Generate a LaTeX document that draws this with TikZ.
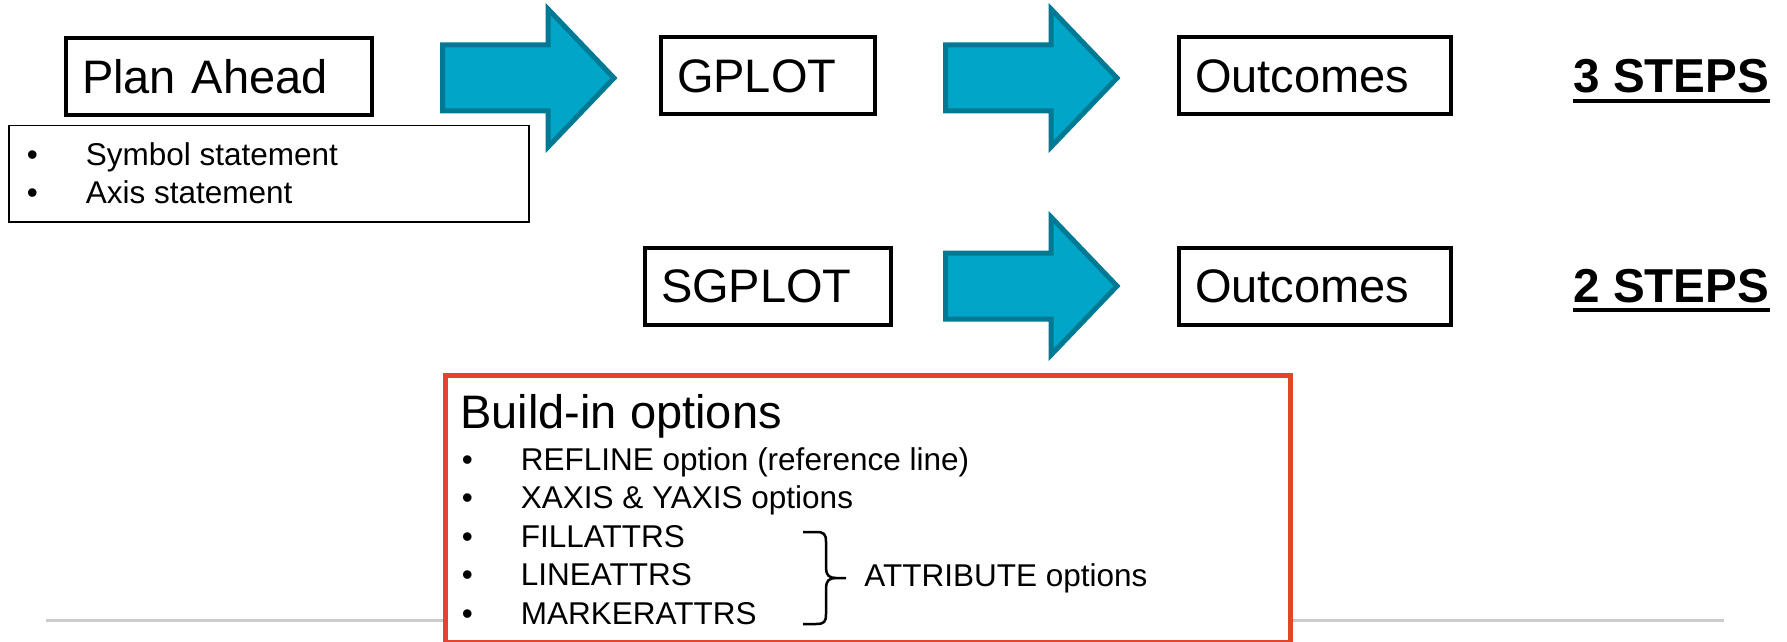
\documentclass[tikz,border=0pt]{standalone}
\usepackage{fontspec}
\setmainfont{Liberation Sans}
\definecolor{arrowfill}{RGB}{0,165,199}
\definecolor{arrowedge}{RGB}{0,122,148}
\definecolor{optred}{RGB}{226,68,44}
\tikzset{   stepbox/.style = {rectangle, draw = black, line width = 2pt, fill = white, align = left, inner xsep = 8pt, minimum height = 38.5pt, anchor = west, font = \fontsize{23.5}{28}\selectfont},
            listtext/.style = {inner sep = 0pt, anchor = base west, font = \fontsize{15.75}{19}\selectfont},
            stepcount/.style = {inner sep = 0pt, anchor = base west, font = \fontsize{23.8}{28}\selectfont\bfseries},
            bigarrow/.style = {fill = arrowfill, draw = arrowedge, line width = 2.5pt}}
\newcommand{\bulletgap}{\textbullet\hspace{24pt}}

\begin{document}
\begin{tikzpicture}[x=0.5pt, y=-0.5pt]
                        \useasboundingbox (0,0) rectangle (1787,642);
                        \draw[line width=1.5pt, gray!40] (46,620) -- (1724,620);
                        % block arrows
                        \foreach \ax/\ay in {440/78, 943/78, 943/286}
                          \draw[bigarrow, shift={(\ax,\ay)}] (2.5,-33) -- (108,-33) -- (108,-69) -- (174,0) -- (108,69) -- (108,33) -- (2.5,33) -- cycle;
                        % top row
                        \node[stepbox, text width=137pt] (plan) at (64,76.5) {Plan Ahead};
                        \node[stepbox, text width=91pt] (gplot) at (659,76) {GPLOT};
                        \node[stepbox, text width=120pt] (outA) at (1177,76) {Outcomes};
                        \node[draw, line width=0.75pt, minimum width=260pt, minimum height=48pt, anchor=north west, inner sep=0pt] (planlist) at (8,125) {};
                        \node[listtext] (symb) at (26.5,165) {\bulletgap Symbol statement};
                        \node[listtext] (axis) at (26.5,203) {\bulletgap Axis statement};
                        % bottom row
                        \node[stepbox, text width=107pt] (sgplot) at (643,286.5) {SGPLOT};
                        \node[stepbox, text width=120pt] (outB) at (1177,286.5) {Outcomes};
                        \node[stepcount] (three) at (1573,93) {3 STEPS};
                        \node[stepcount] (two) at (1573,302) {2 STEPS};
                        \draw[line width=2pt] ([yshift=-4pt]three.base west) -- ([yshift=-4pt]three.base east);
                        \draw[line width=2pt] ([yshift=-4pt]two.base west) -- ([yshift=-4pt]two.base east);
                        % options box
                        \node[draw=optred, line width=2.5pt, fill=white, minimum width=422.5pt, minimum height=133.5pt, anchor=north west, inner sep=0pt] (optbox) at (442.5,372.5) {};
                        \node[anchor=base west, inner sep=0pt, font=\fontsize{23.5}{28}\selectfont] (optitle) at (460,428) {Build-in options};
                        \foreach \txt [count=\i] in {REFLINE option (reference line), XAXIS \& YAXIS options, FILLATTRS, LINEATTRS, MARKERATTRS}
                          \node[listtext] (opt\i) at (461.5,{470+38.5*(\i-1)}) {\bulletgap\txt};
                        \draw[line width=1.25pt] (803,532) -- (816,532) .. controls (824,532) and (826,534) .. (826,542) -- (826,568)
                          .. controls (826,575) and (829,578) .. (836,578) -- (846,578)
                          (836,578) .. controls (829,578) and (826,581) .. (826,588) -- (826,614)
                          .. controls (826,622) and (824,624) .. (816,624) -- (803,624);
                        \node[listtext] (attrib) at (864,586) {ATTRIBUTE options};
\end{tikzpicture}
\end{document}
